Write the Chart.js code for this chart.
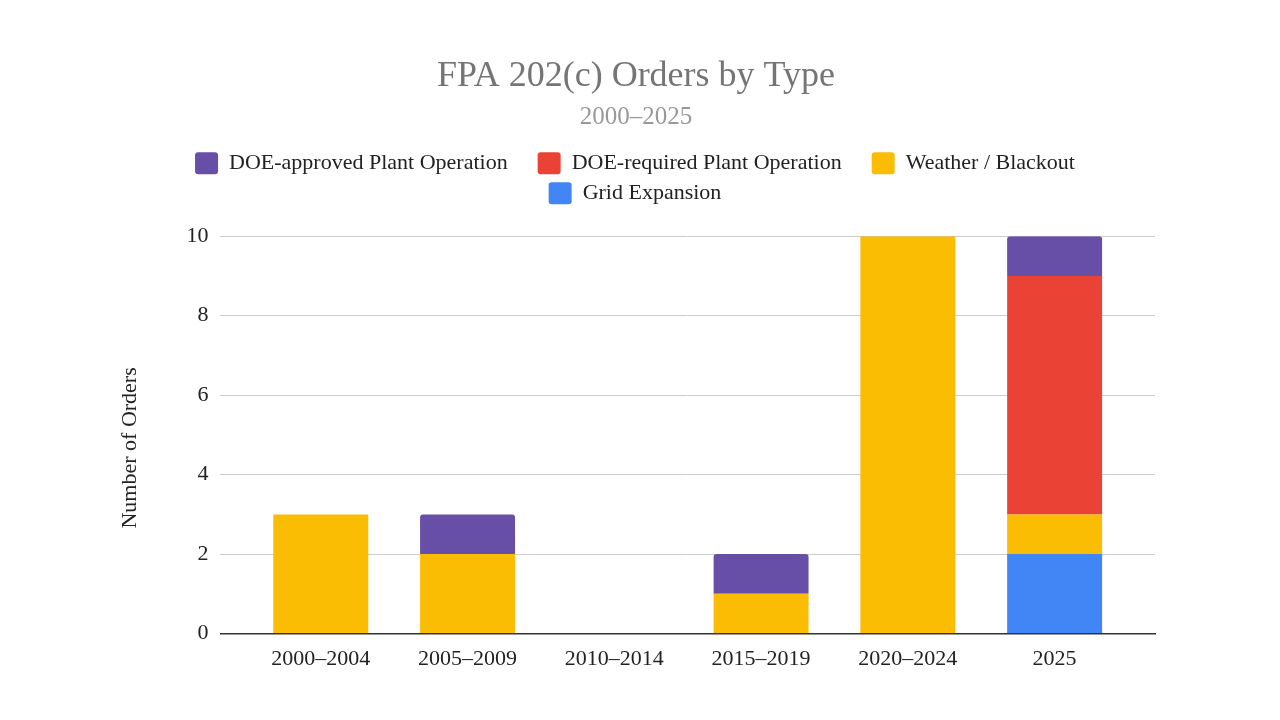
<!DOCTYPE html>
<html>
<head>
<meta charset="utf-8">
<script src="https://cdn.jsdelivr.net/npm/chart.js@4.4.1/dist/chart.umd.min.js"></script>
<style>
  html, body { margin: 0; padding: 0; background: #fff; }
  #wrap { width: 1280px; height: 720px; }
</style>
</head>
<body>
<div id="wrap"><canvas id="ordersChart"></canvas></div>
<script>
// Chart data
const periods = ['2000–2004', '2005–2009', '2010–2014', '2015–2019', '2020–2024', '2025'];
const doeApproved = [0, 1, 0, 1, 0, 1];
const doeRequired = [0, 0, 0, 0, 0, 6];
const weatherBlackout = [3, 2, 0, 1, 10, 1];
const gridExpansion = [0, 0, 0, 0, 0, 2];
const yTicks = [0, 2, 4, 6, 8, 10];

const serif = "'Liberation Serif', 'DejaVu Serif', serif";

// stack order: grid at bottom, DOE-approved on top (legend keeps its own order)
function makeSet(label, data, color, order, radius) {
    return {
        label: label,
        data: data,
        backgroundColor: color,
        order: order,
        borderRadius: { topLeft: radius, topRight: radius },
        borderSkipped: 'start',
        barPercentage: 0.647,
        categoryPercentage: 1.0
    };
}

// layout tweaks: room under the legend, legend centring, the categories
// sit a little inside the gridlines, y title sits a bit low
const layoutTweaks = {
    id: 'layoutTweaks',
    beforeInit(chart) {
        const legend = chart.legend;
        const origFit = legend.fit;
        legend.fit = function () {
            origFit.call(this);
            this.height += 22;
        };
    },
    afterLayout(chart) {
        chart.legend.left += 10;
        chart.legend.right += 10;
        const x = chart.scales.x;
        const inset = 27;
        x._startPixel += inset;
        x._endPixel -= inset;
        x._length -= inset * 2;

        const y = chart.scales.y;
        if (!y._titleShifted) {
            const origTitle = y.drawTitle;
            y.drawTitle = function () {
                this.ctx.save();
                this.ctx.translate(0, 13);
                origTitle.apply(this, arguments);
                this.ctx.restore();
            };
            y._titleShifted = true;
        }
    }
};

const ctx = document.getElementById('ordersChart').getContext('2d');
new Chart(ctx, {
    type: 'bar',
    data: {
        labels: periods,
        datasets: [
            makeSet('DOE-approved Plant Operation', doeApproved, '#674EA7', 3, 3),
            makeSet('DOE-required Plant Operation', doeRequired, '#EA4335', 2, 0),
            makeSet('Weather / Blackout', weatherBlackout, '#FBBC04', 1, 0),
            makeSet('Grid Expansion', gridExpansion, '#4285F4', 0, 0)
        ]
    },
    plugins: [layoutTweaks],
    options: {
        responsive: true,
        maintainAspectRatio: false,
        animation: false,
        layout: {
            padding: { left: 117, right: 125, top: 52, bottom: 36 }
        },
        plugins: {
            title: {
                display: true,
                text: 'FPA 202(c) Orders by Type',
                color: '#757575',
                font: { family: serif, size: 36, weight: 'normal' },
                padding: { top: 3, bottom: 4 }
            },
            subtitle: {
                display: true,
                text: '2000–2025',
                color: '#999999',
                font: { family: serif, size: 25, weight: 'normal' },
                padding: { top: 0, bottom: 12 }
            },
            legend: {
                position: 'top',
                labels: {
                    color: '#222',
                    font: { family: serif, size: 22 },
                    boxWidth: 23,
                    boxHeight: 22,
                    useBorderRadius: true,
                    borderRadius: 3,
                    padding: 8,
                    sort: (a, b) => a.datasetIndex - b.datasetIndex,
                    generateLabels: chart => {
                        const items = Chart.defaults.plugins.legend.labels.generateLabels(chart);
                        items.forEach(item => { item.text = item.text + '\u2003'; });
                        return items;
                    }
                }
            },
            tooltip: { enabled: false }
        },
        scales: {
            x: {
                stacked: true,
                grid: { display: false, drawTicks: false },
                border: { color: '#333', width: 1.5 },
                ticks: {
                    color: '#222',
                    font: { family: serif, size: 22 },
                    padding: 12
                }
            },
            y: {
                stacked: true,
                min: 0,
                max: 10,
                afterBuildTicks: axis => {
                    axis.ticks = yTicks.map(v => ({ value: v }));
                },
                grid: { color: '#cccccc', drawTicks: false },
                border: { display: false },
                ticks: {
                    color: '#222',
                    font: { family: serif, size: 22 },
                    padding: 12
                },
                title: {
                    display: true,
                    text: 'Number of Orders',
                    color: '#222',
                    font: { family: serif, size: 22 },
                    padding: { top: 0, bottom: 31 }
                }
            }
        }
    }
});
</script>
</body>
</html>
